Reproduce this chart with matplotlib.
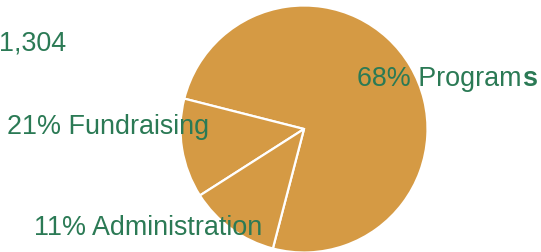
import matplotlib
matplotlib.use("Agg")
import matplotlib.pyplot as plt

plt.rcParams['font.family'] = ['Liberation Sans', 'DejaVu Sans']

categories = ["Programs", "Fundraising", "Administration"]
shares = [75.1, 13.0, 11.9]  # wedge sizes as drawn
label_texts = ["68% Program", "21% Fundraising", "11% Administration"]
total_text = "1,304"

W, H = 541, 253
fig = plt.figure(figsize=(W / 100, H / 100), dpi=100)
ax = fig.add_axes([0, 0, 1, 1])

pie_color = '#d59a44'
text_color = '#2b7a55'

ax.pie(shares, colors=[pie_color] * 3, startangle=255.4, counterclock=True,
       center=(304, H - 130), radius=123.5,
       wedgeprops=dict(edgecolor='white', linewidth=1.6), frame=True)
ax.set_xlim(0, W)
ax.set_ylim(0, H)
ax.axis('off')

fs = 19.4
ax.text(-1, H - 50, total_text, fontsize=fs, color=text_color, ha='left', va='baseline')
pos = [(357, 86), (7, 134), (34, 235)]
texts = []
for t, (x, y) in zip(label_texts, pos):
    texts.append(ax.text(x, H - y, t, fontsize=fs, color=text_color, ha='left', va='baseline'))

# trailing bold "s" of Programs as seen in the reference
fig.canvas.draw()
bb = texts[0].get_window_extent()
x_end = ax.transData.inverted().transform((bb.x1, bb.y0))[0]
ax.text(x_end + 1, H - 86, "s",
        fontsize=fs, color=text_color, ha='left', va='baseline', fontweight='bold')

fig.savefig("out.png", dpi=100)
